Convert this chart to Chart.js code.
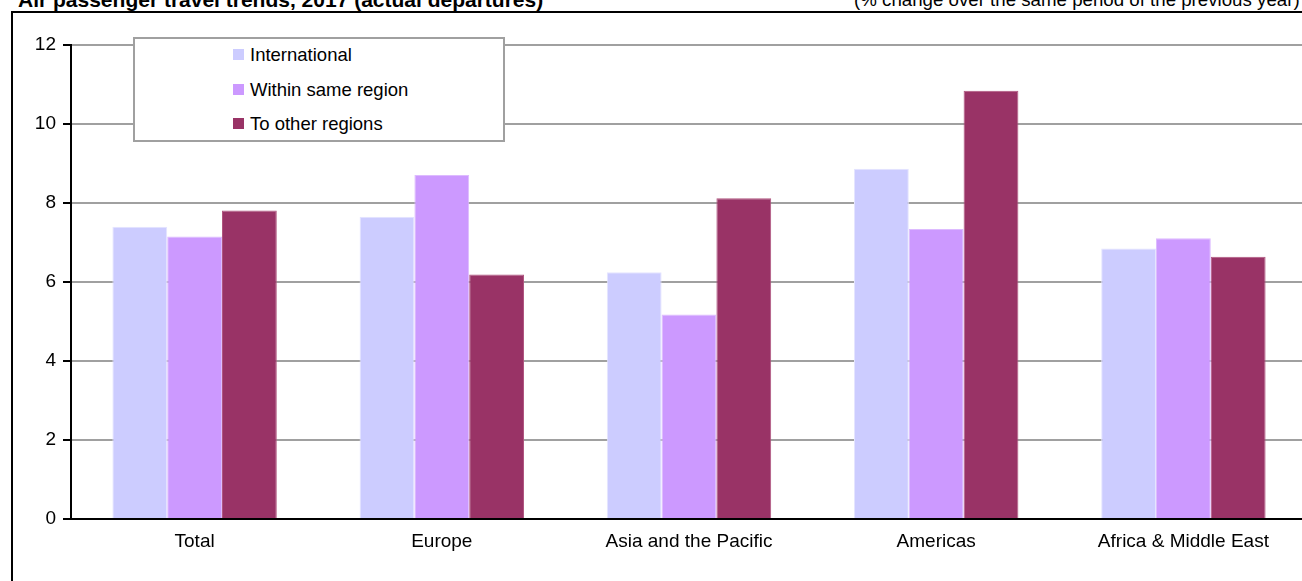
<!DOCTYPE html>
<html>
<head>
<meta charset="utf-8">
<script src="https://cdn.jsdelivr.net/npm/chart.js@4/dist/chart.umd.min.js"></script>
<style>
  html, body { margin: 0; padding: 0; background: #fff; overflow: hidden; width: 1302px; height: 581px; }
  #page { position: relative; width: 1302px; height: 581px; overflow: hidden;
          font-family: "Liberation Sans", Arial, sans-serif; color: #000; }
  #title { position: absolute; left: 18px; top: -11px; font-weight: bold; font-size: 21px;
           line-height: 1; white-space: nowrap; }
  #unit { position: absolute; left: 854px; top: -9px; font-size: 18.7px; line-height: 1; white-space: nowrap; }
  #frame { position: absolute; left: 11px; top: 11px; width: 1400px; height: 700px;
           border-left: 2px solid #000; border-top: 2px solid #000; }
  #wrap { position: absolute; left: 0; top: 0; width: 1320px; height: 581px; }
  #legend { position: absolute; left: 133px; top: 37px; width: 368px; height: 101px;
            border: 2px solid #a0a0a0; background: #fff; box-sizing: content-box; }
  .item { position: absolute; left: 98px; height: 22px; font-size: 18.5px; line-height: 22px; white-space: nowrap; }
  .sw { position: absolute; left: 0; top: 5px; width: 11px; height: 11px; }
  .lbl { position: absolute; left: 17px; top: 0; }
</style>
</head>
<body>
<div id="page">
  <div id="title">Air passenger travel trends, 2017 (actual departures)</div>
  <div id="unit">(% change over the same period of the previous year)</div>
  <div id="frame"></div>
  <div id="wrap"><canvas id="chart" width="1320" height="581"></canvas></div>
  <div id="legend"></div>
</div>
<script>
// Regions shown along the horizontal axis
const categories = ['Total', 'Europe', 'Asia and the Pacific', 'Americas', 'Africa & Middle East'];

// Growth of departures, % change
const international = [7.40, 7.65, 6.25, 8.87, 6.85];
const withinRegion  = [7.15, 8.71, 5.18, 7.34, 7.11];
const otherRegions  = [7.81, 6.19, 8.12, 10.84, 6.64];

const seriesNames  = ['International', 'Within same region', 'To other regions'];
const seriesColors = ['#CCCCFF', '#CC99FF', '#993366'];
const seriesEdges  = ['#E4E4FF', '#DDBBFF', '#B0557F'];
const seriesValues = [international, withinRegion, otherRegions];

// Value axis range
const yMin = 0, yMax = 12, yStep = 2;

const font = { family: '"Liberation Sans", Arial, sans-serif', size: 19 };

const datasets = seriesNames.map((name, i) => ({
  label: name,
  data: seriesValues[i],
  backgroundColor: seriesColors[i],
  borderColor: seriesEdges[i],
  borderWidth: { top: 1, left: 1, right: 1, bottom: 0 },
  categoryPercentage: 0.665,
  barPercentage: 1.0
}));

new Chart(document.getElementById('chart'), {
  type: 'bar',
  data: { labels: categories, datasets },
  options: {
    responsive: false,
    animation: false,
    devicePixelRatio: 1,
    layout: { padding: { top: 45, right: 13, bottom: 0, left: 0 } },
    plugins: { legend: { display: false }, tooltip: { enabled: false } },
    scales: {
      x: {
        grid: { display: false, drawTicks: false },
        border: { display: true, color: '#000', width: 2 },
        ticks: { color: '#000', font, padding: 11, maxRotation: 0, autoSkip: false },
        afterFit: (s) => { s.height = 62; }
      },
      y: {
        min: yMin, max: yMax,
        grid: { color: '#a0a0a0', lineWidth: 2, tickColor: '#000', tickLength: 8, drawTicks: true },
        border: { display: true, color: '#000', width: 2 },
        ticks: { stepSize: yStep, color: '#000', font, padding: 7 },
        afterFit: (s) => { s.width = 71; }
      }
    }
  }
});

// Legend box listing each series with its colour swatch
const legend = document.getElementById('legend');
seriesNames.forEach((name, i) => {
  const row = document.createElement('div');
  row.className = 'item';
  row.style.top = (5 + i * 34.5) + 'px';
  const sw = document.createElement('div');
  sw.className = 'sw';
  sw.style.background = seriesColors[i];
  const lbl = document.createElement('div');
  lbl.className = 'lbl';
  lbl.textContent = name;
  row.appendChild(sw);
  row.appendChild(lbl);
  legend.appendChild(row);
});
</script>
</body>
</html>
